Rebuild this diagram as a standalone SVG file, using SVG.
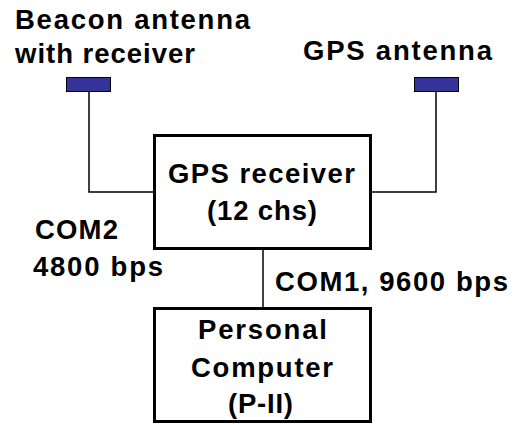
<svg xmlns="http://www.w3.org/2000/svg" width="513" height="425" viewBox="0 0 513 425">
<style>
text{font-family:"Liberation Sans",Arial,sans-serif;font-weight:bold;font-size:27.5px;fill:#000}
.box{fill:#fff;stroke:#000;stroke-width:3}
.ant{fill:#333399;stroke:#000;stroke-width:1}
.wire{fill:none;stroke:#000;stroke-width:1.5}
</style>
<rect width="513" height="425" fill="#fff"/>
<g id="connectors">
<polyline class="wire" points="89,92 89,192 154,192"/>
<polyline class="wire" points="436,92 436,192 371,192"/>
<line class="wire" x1="263" y1="249" x2="263" y2="308"/>
</g>
<g id="beacon-antenna">
<rect class="ant" x="66.5" y="77.5" width="44" height="14"/>
<text x="15" y="29" textLength="235" lengthAdjust="spacing">Beacon antenna</text>
<text x="15" y="63" textLength="180" lengthAdjust="spacing">with receiver</text>
</g>
<g id="gps-antenna">
<rect class="ant" x="414.5" y="77.5" width="44" height="14"/>
<text x="303" y="60" textLength="189" lengthAdjust="spacing">GPS antenna</text>
</g>
<g id="gps-receiver">
<rect class="box" x="154.5" y="135.5" width="216" height="113"/>
<text x="168" y="183" font-size="28.5" textLength="187" lengthAdjust="spacing">GPS receiver</text>
<text x="207" y="220" font-size="28.5" textLength="110" lengthAdjust="spacing">(12 chs)</text>
</g>
<g id="com2-label">
<text x="35" y="239" textLength="83" lengthAdjust="spacing">COM2</text>
<text x="33" y="276" textLength="130" lengthAdjust="spacing">4800 bps</text>
</g>
<g id="com1-label">
<text x="275" y="291" textLength="233" lengthAdjust="spacing">COM1, 9600 bps</text>
</g>
<g id="personal-computer">
<rect class="box" x="154.5" y="308.5" width="216" height="113"/>
<text x="198" y="339" font-size="28.5" textLength="129" lengthAdjust="spacing">Personal</text>
<text x="191" y="377" font-size="28.5" textLength="142" lengthAdjust="spacing">Computer</text>
<text x="228" y="413" font-size="28.5" textLength="65" lengthAdjust="spacing">(P-II)</text>
</g>
</svg>
